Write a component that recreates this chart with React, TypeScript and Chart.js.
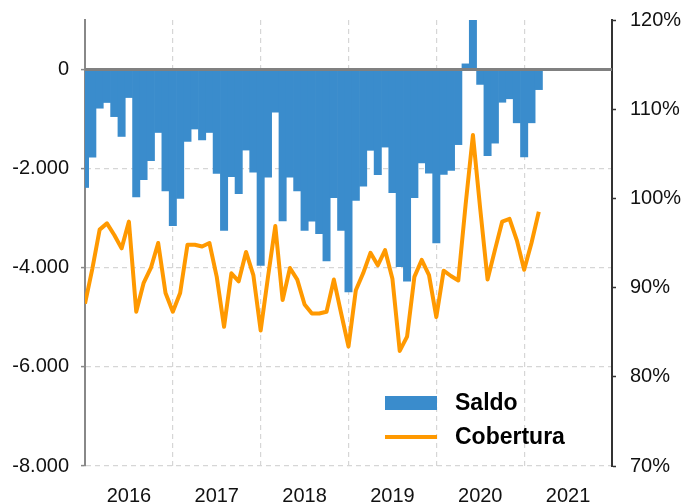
import React, { useEffect, useRef } from "react";
import { Chart, registerables } from "chart.js";

Chart.register(...registerables);

// Monthly data, Jan 2016 .. Mar 2021 (month index 0 = Jan 2016)
const saldo: number[] = [
  -2380, -1770, -780, -665, -950, -1350, -565, -2570, -2220, -1840, -1270, -2450,
  -3150, -2600, -1450, -1200, -1420, -1270, -2095, -3245, -2160, -2505, -1625, -2070,
  -3950, -2170, -860, -3055, -2170, -2450, -3245, -3060, -3310, -3860, -2585, -3245,
  -4485, -2640, -2355, -1630, -2120, -1565, -2485, -3980, -4270, -2585, -1885, -2090,
  -3500, -2115, -2035, -1515, 115, 1000, -300, -1740, -1485, -660, -590, -1075,
  -1765, -1075, -405,
];

const cobertura: number[] = [
  88.2, 92.1, 96.5, 97.2, 95.9, 94.4, 97.4, 87.3, 90.5, 92.2, 95.0, 89.4,
  87.3, 89.4, 94.8, 94.8, 94.6, 95.0, 91.2, 85.6, 91.6, 90.7, 94.0, 91.4,
  85.2, 91.2, 96.9, 88.6, 92.2, 90.9, 88.1, 87.1, 87.1, 87.3, 90.9, 87.1,
  83.4, 89.7, 91.6, 93.9, 92.5, 94.2, 91.0, 82.9, 84.5, 91.2, 93.1, 91.4,
  86.7, 91.9, 91.3, 90.8, 99.3, 107.1, 98.8, 90.9, 94.2, 97.4, 97.7, 95.3,
  92.0, 95.0, 98.5,
];

const years: number[] = [2016, 2017, 2018, 2019, 2020, 2021];
const leftTicks: number[] = [-8000, -6000, -4000, -2000, 0];
const rightTicks: number[] = [70, 80, 90, 100, 110, 120];
const seriesNames: string[] = ["Saldo", "Cobertura"];

const BAR_COLOR = "#3A8CCC";
const LINE_COLOR = "#FF9900";
const FONT = "'Liberation Sans', Arial, sans-serif";

const fmtThousands = (v: number) => {
  const s = Math.abs(Math.round(v))
    .toString()
    .replace(/\B(?=(\d{3})+(?!\d))/g, ".");
  return (v < 0 ? "-" : "") + s;
};

const zeroLinePlugin = {
  id: "zeroLine",
  afterDatasetsDraw(chart: any) {
    const { ctx, chartArea } = chart;
    const y = chart.scales.y.getPixelForValue(0);
    ctx.save();
    ctx.strokeStyle = "#808080";
    ctx.lineWidth = 3;
    ctx.beginPath();
    ctx.moveTo(chartArea.left, y);
    ctx.lineTo(chartArea.right, y);
    ctx.stroke();
    ctx.restore();
  },
};

const legendPlugin = {
  id: "customLegend",
  afterDraw(chart: any) {
    const { ctx } = chart;
    ctx.save();
    ctx.fillStyle = BAR_COLOR;
    ctx.fillRect(385, 396, 52, 14);
    ctx.strokeStyle = LINE_COLOR;
    ctx.lineWidth = 4;
    ctx.beginPath();
    ctx.moveTo(385, 437);
    ctx.lineTo(437, 437);
    ctx.stroke();
    ctx.fillStyle = "#000";
    ctx.font = `bold 23px ${FONT}`;
    ctx.textBaseline = "middle";
    ctx.textAlign = "left";
    ctx.fillText(seriesNames[0], 455, 404);
    ctx.fillText(seriesNames[1], 455, 438);
    ctx.restore();
  },
};

export default function App() {
  const ref = useRef<HTMLCanvasElement | null>(null);

  useEffect(() => {
    if (!ref.current) return;
    const chart = new Chart(ref.current, {
      type: "bar",
      data: {
        datasets: [
          {
            type: "line",
            label: seriesNames[1],
            data: cobertura.map((v, i) => ({ x: i, y: v })),
            yAxisID: "y1",
            borderColor: LINE_COLOR,
            borderWidth: 4,
            pointRadius: 0,
            tension: 0,
            order: 0,
            borderJoinStyle: "round",
          } as any,
          {
            type: "bar",
            label: seriesNames[0],
            data: saldo.map((v, i) => ({ x: i, y: v })),
            yAxisID: "y",
            backgroundColor: BAR_COLOR,
            borderWidth: 0,
            barPercentage: 1,
            categoryPercentage: 1,
            order: 1,
            clip: 0,
          } as any,
        ],
      },
      options: {
        responsive: false,
        animation: false,
        devicePixelRatio: 1,
        layout: { padding: { top: 20, left: 0, right: 0, bottom: 0 } },
        plugins: {
          legend: { display: false },
          tooltip: { enabled: false },
        },
        scales: {
          x: {
            type: "linear",
            min: 0,
            max: 72,
            offset: false,
            afterBuildTicks: (scale: any) => {
              const t: any[] = [];
              for (let v = 0; v <= 72; v += 6) t.push({ value: v });
              scale.ticks = t;
            },
            afterFit: (scale: any) => {
              scale.height = 38;
              scale.paddingLeft = 0;
              scale.paddingRight = 0;
            },
            ticks: {
              autoSkip: false,
              maxRotation: 0,
              padding: 18,
              color: "#111",
              font: { family: FONT, size: 20 },
              callback: (v: any) => {
                const n = Number(v);
                if (n % 12 === 6) return String(years[(n - 6) / 12]);
                return "";
              },
            },
            grid: {
              offset: false,
              color: (c: any) =>
                c.tick && c.tick.value % 12 === 0 && c.tick.value > 0 && c.tick.value < 72
                  ? "#D6D6D6"
                  : "rgba(0,0,0,0)",
              lineWidth: 1.2,
              drawTicks: false,
            },
            border: { display: false, dash: [5, 4] },
          },
          y: {
            type: "linear",
            position: "left",
            min: -8000,
            max: 1000,
            afterBuildTicks: (scale: any) => {
              scale.ticks = leftTicks.map((v) => ({ value: v }));
            },
            afterFit: (scale: any) => {
              scale.width = 85;
              scale.paddingTop = 0;
              scale.paddingBottom = 0;
            },
            ticks: {
              padding: 12,
              color: "#111",
              font: { family: FONT, size: 20 },
              callback: (v: any) => fmtThousands(Number(v)),
            },
            grid: {
              color: (c: any) => (c.tick && c.tick.value === 0 ? "rgba(0,0,0,0)" : "#D6D6D6"),
              lineWidth: 1.2,
              tickColor: "#888",
              tickLength: 4,
              tickWidth: 1.5,
            },
            border: { display: true, color: "#888", width: 2, dash: [5, 4] },
          },
          y1: {
            type: "linear",
            position: "right",
            min: 70,
            max: 120,
            afterBuildTicks: (scale: any) => {
              scale.ticks = rightTicks.map((v) => ({ value: v }));
            },
            afterFit: (scale: any) => {
              scale.width = 88;
              scale.paddingTop = 0;
              scale.paddingBottom = 0;
            },
            ticks: {
              padding: 14,
              color: "#111",
              font: { family: FONT, size: 20 },
              callback: (v: any) => `${v}%`,
            },
            grid: {
              drawOnChartArea: false,
              tickColor: "#333",
              tickLength: 4,
              tickWidth: 1.5,
            },
            border: { display: true, color: "#333", width: 2 },
          },
        },
      },
      plugins: [zeroLinePlugin, legendPlugin],
    } as any);
    return () => chart.destroy();
  }, []);

  return (
    <div style={{ position: "absolute", left: 0, top: 0, width: 700, height: 504 }}>
      <canvas ref={ref} width={700} height={504} style={{ width: 700, height: 504 }} />
    </div>
  );
}
